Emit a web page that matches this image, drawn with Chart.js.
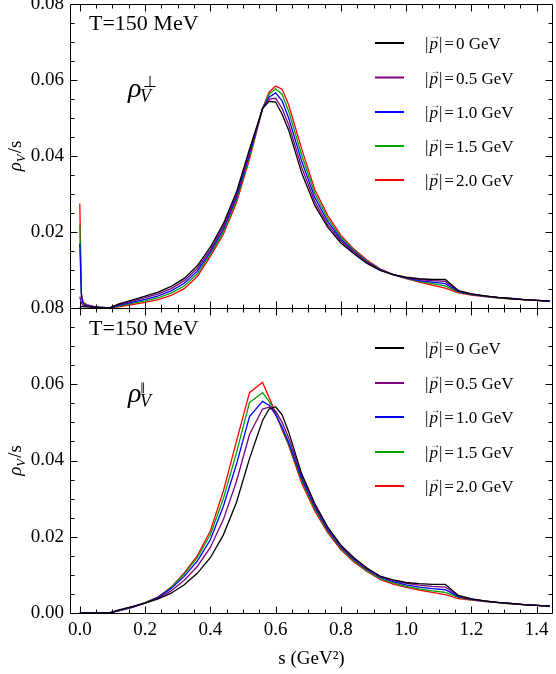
<!DOCTYPE html>
<html><head><meta charset="utf-8">
<script src="https://cdn.jsdelivr.net/npm/chart.js@4.4.1/dist/chart.umd.min.js"></script>
<style>
html,body{margin:0;padding:0;background:#fff;}
#wrap{position:relative;width:556px;height:674px;overflow:hidden;background:#fff;}
canvas{position:absolute;left:0;top:0;}
</style></head><body>
<div id="wrap"><canvas id="c1" width="556" height="674"></canvas><canvas id="c2" width="556" height="674"></canvas></div>
<script>
// ---- data ----
const sValues = [0, 0.005, 0.01, 0.02, 0.04, 0.06, 0.09,
  0.12, 0.16, 0.20, 0.24, 0.28, 0.32, 0.36, 0.40, 0.44, 0.48, 0.52, 0.56,
  0.58, 0.60, 0.62, 0.64,
  0.68, 0.72, 0.76, 0.80, 0.84, 0.88, 0.92, 0.96, 1.00, 1.04, 1.08, 1.12, 1.16, 1.20, 1.24, 1.28, 1.32, 1.36, 1.40, 1.44];

const momentumLabels = ['0', '0.5', '1.0', '1.5', '2.0'];

// transverse (top panel)
const perpP00 = [0, 0.0004, 0.0004, 0.0003, 0.0002, 0.0001, 0,
  0.0011, 0.0021, 0.0031, 0.0042, 0.0057, 0.0078, 0.0111, 0.0160, 0.0222, 0.0305, 0.0418, 0.0525,
  0.0544, 0.0542, 0.0510, 0.0468,
  0.0355, 0.0270, 0.0212, 0.0171, 0.0143, 0.0117, 0.0099, 0.0088, 0.0081, 0.0077, 0.0075, 0.0075, 0.0046, 0.0037, 0.0032, 0.0028, 0.0025, 0.0022, 0.0020, 0.0018];
const perpP05 = [0.0030, 0.0012, 0.0008, 0.0005, 0.0003, 0.0001, 0,
  0.0009, 0.0018, 0.0027, 0.0037, 0.0051, 0.0072, 0.0104, 0.0153, 0.0215, 0.0298, 0.0412, 0.0525,
  0.0550, 0.0552, 0.0525, 0.0482,
  0.0370, 0.0280, 0.0219, 0.0176, 0.0146, 0.0119, 0.0100, 0.0088, 0.0080, 0.0075, 0.0072, 0.0070, 0.0045, 0.0037, 0.0032, 0.0028, 0.0025, 0.0022, 0.0020, 0.0018];
const perpP10 = [0.0170, 0.0030, 0.0012, 0.0007, 0.0004, 0.0002, 0,
  0.0007, 0.0015, 0.0023, 0.0032, 0.0045, 0.0065, 0.0097, 0.0147, 0.0208, 0.0291, 0.0405, 0.0525,
  0.0555, 0.0566, 0.0545, 0.0500,
  0.0386, 0.0291, 0.0227, 0.0181, 0.0149, 0.0121, 0.0101, 0.0088, 0.0079, 0.0072, 0.0068, 0.0064, 0.0044, 0.0036, 0.0031, 0.0028, 0.0025, 0.0022, 0.0020, 0.0018];
const perpP15 = [0.0220, 0.0035, 0.0014, 0.0008, 0.0004, 0.0002, 0,
  0.0005, 0.0012, 0.0019, 0.0027, 0.0039, 0.0058, 0.0090, 0.0141, 0.0201, 0.0284, 0.0398, 0.0525,
  0.0562, 0.0577, 0.0562, 0.0518,
  0.0402, 0.0302, 0.0235, 0.0186, 0.0152, 0.0123, 0.0102, 0.0088, 0.0078, 0.0070, 0.0064, 0.0058, 0.0042, 0.0035, 0.0031, 0.0027, 0.0024, 0.0022, 0.0020, 0.0018];
const perpP20 = [0.0275, 0.0040, 0.0016, 0.0009, 0.0005, 0.0002, 0,
  0.0003, 0.0009, 0.0015, 0.0022, 0.0033, 0.0051, 0.0083, 0.0136, 0.0194, 0.0277, 0.0391, 0.0525,
  0.0568, 0.0584, 0.0576, 0.0535,
  0.0418, 0.0312, 0.0243, 0.0191, 0.0155, 0.0126, 0.0103, 0.0088, 0.0077, 0.0068, 0.0060, 0.0052, 0.0040, 0.0034, 0.0030, 0.0027, 0.0024, 0.0022, 0.0020, 0.0018];

// longitudinal (bottom panel)
const parP00 = [0, 0, 0, 0, 0, 0, 0,
  0.0008, 0.0017, 0.0026, 0.0037, 0.0052, 0.0074, 0.0104, 0.0145, 0.0205, 0.0290, 0.0405, 0.0505,
  0.0535, 0.0541, 0.0520, 0.0475,
  0.0365, 0.0287, 0.0225, 0.0178, 0.0145, 0.0118, 0.0097, 0.0087, 0.0080, 0.0077, 0.0075, 0.0075, 0.0046, 0.0037, 0.0032, 0.0028, 0.0025, 0.0022, 0.0020, 0.0018];
const parP05 = [0, 0, 0, 0, 0, 0, 0,
  0.0007, 0.0016, 0.0026, 0.0039, 0.0058, 0.0086, 0.0122, 0.0172, 0.0245, 0.0345, 0.0468, 0.0535,
  0.0540, 0.0530, 0.0500, 0.0460,
  0.0360, 0.0283, 0.0222, 0.0175, 0.0143, 0.0116, 0.0096, 0.0085, 0.0078, 0.0073, 0.0070, 0.0068, 0.0045, 0.0037, 0.0032, 0.0028, 0.0025, 0.0022, 0.0020, 0.0018];
const parP10 = [0, 0, 0, 0, 0, 0, 0,
  0.0006, 0.0015, 0.0026, 0.0041, 0.0064, 0.0096, 0.0136, 0.0192, 0.0280, 0.0390, 0.0515, 0.0555,
  0.0545, 0.0520, 0.0487, 0.0448,
  0.0353, 0.0278, 0.0218, 0.0172, 0.0140, 0.0114, 0.0094, 0.0082, 0.0074, 0.0068, 0.0064, 0.0061, 0.0043, 0.0036, 0.0031, 0.0028, 0.0025, 0.0022, 0.0020, 0.0018];
const parP15 = [0, 0, 0, 0, 0, 0, 0,
  0.0006, 0.0015, 0.0027, 0.0042, 0.0067, 0.0102, 0.0145, 0.0205, 0.0300, 0.0420, 0.0552, 0.0578,
  0.0555, 0.0522, 0.0483, 0.0443,
  0.0347, 0.0273, 0.0214, 0.0169, 0.0137, 0.0111, 0.0091, 0.0079, 0.0070, 0.0063, 0.0058, 0.0054, 0.0041, 0.0035, 0.0031, 0.0027, 0.0024, 0.0022, 0.0020, 0.0018];
const parP20 = [0, 0, 0, 0, 0, 0, 0,
  0.0006, 0.0015, 0.0027, 0.0042, 0.0068, 0.0105, 0.0150, 0.0215, 0.0320, 0.0450, 0.0578, 0.0605,
  0.0565, 0.0525, 0.0480, 0.0440,
  0.0340, 0.0268, 0.0210, 0.0166, 0.0134, 0.0109, 0.0088, 0.0076, 0.0067, 0.0060, 0.0054, 0.0048, 0.0038, 0.0034, 0.0030, 0.0027, 0.0024, 0.0022, 0.0020, 0.0018];

const xTickValues = [0, 0.2, 0.4, 0.6, 0.8, 1.0, 1.2, 1.4];
const yTickValues = [0, 0.02, 0.04, 0.06, 0.08];

// ---- styles ----
const lineColors = ['#000000', '#800080', '#0000ff', '#00a000', '#ff0000'];
const SERIF = "'Liberation Serif','Times New Roman',serif";
const X_MIN = -0.03, X_MAX = 1.45, Y_MIN = 0, Y_MAX = 0.08;
const X_MINOR = 0.05, Y_MINOR = 0.005;

function drawYTitle(ctx, cx, cy) {
  ctx.save();
  ctx.translate(cx, cy); ctx.rotate(-Math.PI / 2);
  ctx.fillStyle = '#000'; ctx.textBaseline = 'alphabetic'; ctx.textAlign = 'left';
  const f1 = `italic 19px ${SERIF}`, f2 = `italic 13px ${SERIF}`, f3 = `19px ${SERIF}`;
  ctx.font = f1; const w1 = ctx.measureText('ρ').width;
  ctx.font = f2; const w2 = ctx.measureText('V').width;
  ctx.font = f3; const w3 = ctx.measureText('/s').width;
  let x0 = -(w1 + w2 + w3 + 1) / 2;
  ctx.font = f1; ctx.fillText('ρ', x0, 0); x0 += w1;
  ctx.font = f2; ctx.fillText('V', x0, 4); x0 += w2 + 1;
  ctx.font = f3; ctx.fillText('/s', x0, 0);
  ctx.restore();
}

function drawLegend(ctx, chart, rows) {
  chart.data.datasets.forEach((ds, i) => {
    const yr = rows[i];
    ctx.save();
    ctx.strokeStyle = ds.borderColor; ctx.lineWidth = 2;
    ctx.beginPath(); ctx.moveTo(375, yr); ctx.lineTo(404, yr); ctx.stroke();
    ctx.fillStyle = '#000'; ctx.textBaseline = 'alphabetic'; ctx.textAlign = 'left';
    const base = yr + 6;
    let xx = 425;
    ctx.font = `17px ${SERIF}`; ctx.fillText('|', xx, base); xx += ctx.measureText('|').width + 1;
    ctx.font = `italic 17px ${SERIF}`; const pw = ctx.measureText('p').width; ctx.fillText('p', xx, base);
    ctx.font = `10px ${SERIF}`; ctx.textAlign = 'center'; ctx.fillText('→', xx + pw / 2 + 1.5, base - 10); ctx.textAlign = 'left';
    xx += pw + 1;
    ctx.font = `17px ${SERIF}`; ctx.fillText('|', xx, base); xx += ctx.measureText('|').width + 2;
    ctx.fillText('=', xx, base); xx += ctx.measureText('=').width + 2;
    ctx.fillText(ds.label + ' GeV', xx, base);
    ctx.restore();
  });
}

function panelPlugin(o) {
  return {
    id: 'panel_' + o.key,
    afterDraw(chart) {
      const { ctx, chartArea: a, scales: { x, y } } = chart;
      ctx.save();
      ctx.strokeStyle = '#000'; ctx.lineWidth = 1;
      const L = Math.round(a.left) + 0.5, R = Math.round(a.right) - 0.5;
      const T = Math.round(a.top) + 0.5, B = Math.round(a.bottom) + 0.5;
      ctx.beginPath();
      ctx.moveTo(L, T); ctx.lineTo(R, T); ctx.lineTo(R, B); ctx.lineTo(L, B); ctx.closePath();
      for (let k = Math.ceil(x.min / X_MINOR); k * X_MINOR < x.max - 1e-9; k++) {
        const len = (k % 4 === 0) ? 7 : 4;
        const px = Math.round(x.getPixelForValue(k * X_MINOR)) + 0.5;
        ctx.moveTo(px, B); ctx.lineTo(px, B - len);
        ctx.moveTo(px, T); ctx.lineTo(px, T + len);
      }
      for (let k = 1; k * Y_MINOR < y.max - 1e-9; k++) {
        const len = (k % 4 === 0) ? 7 : 4;
        const py = Math.round(y.getPixelForValue(k * Y_MINOR)) + 0.5;
        ctx.moveTo(L, py); ctx.lineTo(L + len, py);
        ctx.moveTo(R, py); ctx.lineTo(R - len, py);
      }
      ctx.stroke();

      ctx.fillStyle = '#000'; ctx.textBaseline = 'alphabetic'; ctx.textAlign = 'left';
      ctx.font = `22px ${SERIF}`;
      ctx.fillText('T=150 MeV', 89, o.tempY);
      // rho label
      ctx.font = `italic 28px ${SERIF}`; ctx.fillText('ρ', 128, o.rhoY);
      ctx.font = `italic 18px ${SERIF}`; ctx.fillText('V', 140, o.rhoY + 5);
      ctx.font = `${o.supSize}px ${SERIF}`; ctx.fillText(o.sup, o.supX, o.rhoY + o.supDy);
      ctx.restore();

      drawLegend(ctx, chart, o.legendRows);
      drawYTitle(ctx, 21, (a.top + a.bottom) / 2);
    }
  };
}

function makeChart(canvasId, series, o) {
  const datasets = series.map((vals, i) => ({
    label: momentumLabels[i],
    data: sValues.map((s, j) => ({ x: s, y: vals[j] })),
    borderColor: lineColors[i], borderWidth: 1.3,
    pointRadius: 0, tension: 0, fill: false
  }));
  return new Chart(document.getElementById(canvasId), {
    type: 'line',
    data: { datasets },
    options: {
      responsive: false, animation: false, devicePixelRatio: 1,
      layout: { padding: o.padding },
      plugins: { legend: { display: false }, tooltip: { enabled: false } },
      scales: {
        x: {
          type: 'linear', min: X_MIN, max: X_MAX, display: o.showX,
          grid: { display: false, drawTicks: false }, border: { display: false },
          afterBuildTicks: sc => { sc.ticks = xTickValues.map(v => ({ value: v })); },
          ticks: { font: { family: SERIF, size: 19 }, color: '#000', padding: 6, maxRotation: 0, autoSkip: false,
                   callback: v => v.toFixed(1) },
          title: { display: o.showX, text: 's (GeV²)', font: { family: SERIF, size: 19 }, color: '#000', padding: { top: 0, bottom: 4 } },
          afterFit: sc => { if (o.xHeight != null) sc.height = o.xHeight; sc.paddingLeft = 0; sc.paddingRight = 0; }
        },
        y: {
          type: 'linear', min: Y_MIN, max: Y_MAX,
          grid: { display: false, drawTicks: false }, border: { display: false },
          afterBuildTicks: sc => { sc.ticks = yTickValues.map(v => ({ value: v })); },
          ticks: { font: { family: SERIF, size: 19 }, color: '#000', padding: 6, autoSkip: false,
                   callback: v => (o.hideZero && v === 0) ? '' : v.toFixed(2) },
          afterFit: sc => { sc.width = 70; sc.paddingTop = 0; sc.paddingBottom = 0; }
        }
      }
    },
    plugins: [panelPlugin(o)]
  });
}

makeChart('c1', [perpP00, perpP05, perpP10, perpP15, perpP20], {
  key: 'perp', padding: { left: 0, top: 4, right: 3, bottom: 366 }, showX: false, hideZero: true,
  tempY: 30, rhoY: 97, sup: '⊥', supX: 143, supDy: -10, supSize: 16,
  legendRows: [43, 77.5, 112, 146, 180]
});
makeChart('c2', [parP00, parP05, parP10, parP15, parP20], {
  key: 'par', padding: { left: 0, top: 308, right: 3, bottom: 0 }, showX: true, hideZero: false, xHeight: 61,
  tempY: 335, rhoY: 402, sup: '∥', supX: 140, supDy: -11, supSize: 11,
  legendRows: [348, 383, 417, 452, 486]
});
</script>
</body></html>
